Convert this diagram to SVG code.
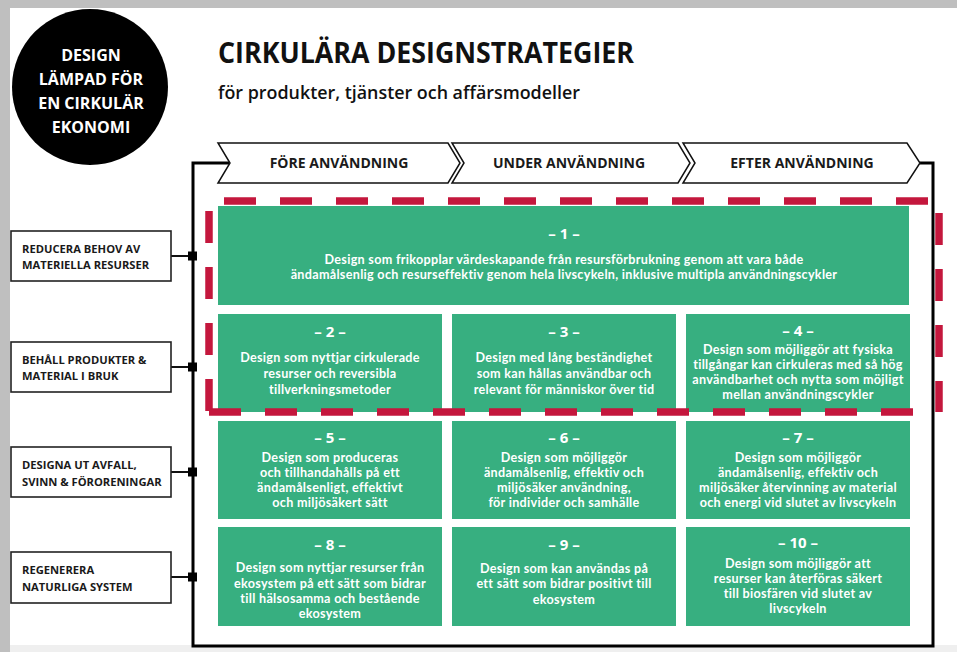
<svg xmlns="http://www.w3.org/2000/svg" width="957" height="652" viewBox="0 0 957 652">
<style>
.bg{fill:#bfbfbf}
.lbl{fill:#fff;stroke:#222;stroke-width:1.6}
.lt{font-family:"Open Sans","Liberation Sans",sans-serif;font-weight:700;font-size:11.2px;fill:#1a1a1a}
.chev{fill:#fff;stroke:#111;stroke-width:1.5}
.ht{font-family:"Open Sans","Liberation Sans",sans-serif;font-weight:700;font-size:14px;fill:#1a1a1a;text-anchor:middle}
.g{fill:#37af80}
.gt{font-family:Lato,"Open Sans","Liberation Sans",sans-serif;font-weight:700;font-size:12.6px;letter-spacing:0.3px;fill:#fff;text-anchor:middle}
.gh{font-family:"Open Sans","Liberation Sans",sans-serif;font-weight:700;font-size:15px;fill:#fff;text-anchor:middle}
.ct{font-family:"Open Sans","Liberation Sans",sans-serif;font-weight:700;font-size:16px;fill:#fff;text-anchor:middle}
.red{stroke:#c4173d;stroke-width:7.5;stroke-dasharray:32 24;fill:none}
.conn{stroke:#111;stroke-width:2;fill:none}
</style>
<rect class="bg" x="0" y="0" width="957" height="652"/>
<rect x="10" y="8" width="947" height="637" fill="#fff"/>
<rect x="10" y="645" width="947" height="7" fill="#efefef"/>

<g id="badge">
<circle cx="90" cy="87" r="78" fill="#000"/>
<text class="ct" x="91" y="61">DESIGN</text>
<text class="ct" x="91" y="85">LÄMPAD FÖR</text>
<text class="ct" x="91" y="109">EN CIRKULÄR</text>
<text class="ct" x="91" y="133">EKONOMI</text>
</g>

<g id="title">
<text x="218" y="63" font-family="Open Sans, Liberation Sans, sans-serif" font-weight="700" font-size="28" fill="#111" textLength="416" lengthAdjust="spacingAndGlyphs">CIRKULÄRA DESIGNSTRATEGIER</text>
<text x="218" y="99" font-family="Open Sans, Liberation Sans, sans-serif" font-weight="600" font-size="18" fill="#111" textLength="362" lengthAdjust="spacingAndGlyphs">för produkter, tjänster och affärsmodeller</text>
</g>

<g id="frame">
<path d="M232,163 H193 V646 H933 V163 H920" fill="none" stroke="#000" stroke-width="3"/>
</g>

<g id="phase-fore">
<path class="chev" d="M218,143 H448 L460,163 L448,183 H218 L230,163 Z"/>
<text class="ht" x="339" y="168">FÖRE ANVÄNDNING</text>
</g>
<g id="phase-under">
<path class="chev" d="M452,143 H678 L690,163 L678,183 H452 L464,163 Z"/>
<text class="ht" x="569" y="168">UNDER ANVÄNDNING</text>
</g>
<g id="phase-efter">
<path class="chev" d="M683,143 H907 L920,163 L907,183 H683 L695,163 Z"/>
<text class="ht" x="802" y="168">EFTER ANVÄNDNING</text>
</g>

<g id="connectors">
<line class="conn" x1="171" y1="256" x2="192" y2="256"/>
<line class="conn" x1="171" y1="367" x2="192" y2="367"/>
<line class="conn" x1="171" y1="472" x2="192" y2="472"/>
<line class="conn" x1="171" y1="577" x2="192" y2="577"/>
<rect x="188" y="251.5" width="9" height="9" fill="#000"/>
<rect x="188" y="362.5" width="9" height="9" fill="#000"/>
<rect x="188" y="467.5" width="9" height="9" fill="#000"/>
<rect x="188" y="572.5" width="9" height="9" fill="#000"/>
</g>

<g id="label-reducera">
<rect class="lbl" x="11" y="231" width="160" height="50"/>
<text class="lt" x="22" y="253">REDUCERA BEHOV AV</text>
<text class="lt" x="22" y="269">MATERIELLA RESURSER</text>
</g>
<g id="label-behall">
<rect class="lbl" x="11" y="342" width="160" height="50"/>
<text class="lt" x="22" y="364">BEHÅLL PRODUKTER &amp;</text>
<text class="lt" x="22" y="380">MATERIAL I BRUK</text>
</g>
<g id="label-designa">
<rect class="lbl" x="11" y="447" width="160" height="50"/>
<text class="lt" x="22" y="469">DESIGNA UT AVFALL,</text>
<text class="lt" x="22" y="486">SVINN &amp; FÖRORENINGAR</text>
</g>
<g id="label-regenerera">
<rect class="lbl" x="11" y="552" width="160" height="51"/>
<text class="lt" x="22" y="574">REGENERERA</text>
<text class="lt" x="22" y="591">NATURLIGA SYSTEM</text>
</g>

<g id="s1">
<rect class="g" x="218" y="206" width="691" height="99"/>
<text class="gh" x="564" y="239">– 1 –</text>
<text class="gt" x="564" y="264">Design som frikopplar värdeskapande från resursförbrukning genom att vara både</text>
<text class="gt" x="564" y="279">ändamålsenlig och resurseffektiv genom hela livscykeln, inklusive multipla användningscykler</text>
</g>
<g id="s2">
<rect class="g" x="218" y="314" width="224" height="98"/>
<text class="gh" x="330" y="337">– 2 –</text>
<text class="gt" x="330" y="362">Design som nyttjar cirkulerade</text>
<text class="gt" x="330" y="378">resurser och reversibla</text>
<text class="gt" x="330" y="394">tillverkningsmetoder</text>
</g>
<g id="s3">
<rect class="g" x="452" y="314" width="224" height="98"/>
<text class="gh" x="564" y="337">– 3 –</text>
<text class="gt" x="564" y="362">Design med lång beständighet</text>
<text class="gt" x="564" y="378">som kan hållas användbar och</text>
<text class="gt" x="564" y="394">relevant för människor över tid</text>
</g>
<g id="s4">
<rect class="g" x="686" y="314" width="224" height="98"/>
<text class="gh" x="798" y="336">– 4 –</text>
<text class="gt" x="798" y="354">Design som möjliggör att fysiska</text>
<text class="gt" x="798" y="369">tillgångar kan cirkuleras med så hög</text>
<text class="gt" x="798" y="384">användbarhet och nytta som möjligt</text>
<text class="gt" x="798" y="399">mellan användningscykler</text>
</g>
<g id="s5">
<rect class="g" x="218" y="421" width="224" height="98"/>
<text class="gh" x="330" y="443">– 5 –</text>
<text class="gt" x="330" y="462">Design som produceras</text>
<text class="gt" x="330" y="477">och tillhandahålls på ett</text>
<text class="gt" x="330" y="492">ändamålsenligt, effektivt</text>
<text class="gt" x="330" y="507">och miljösäkert sätt</text>
</g>
<g id="s6">
<rect class="g" x="452" y="421" width="224" height="98"/>
<text class="gh" x="564" y="443">– 6 –</text>
<text class="gt" x="564" y="462">Design som möjliggör</text>
<text class="gt" x="564" y="477">ändamålsenlig, effektiv och</text>
<text class="gt" x="564" y="492">miljösäker användning,</text>
<text class="gt" x="564" y="507">för individer och samhälle</text>
</g>
<g id="s7">
<rect class="g" x="686" y="421" width="224" height="98"/>
<text class="gh" x="798" y="443">– 7 –</text>
<text class="gt" x="798" y="462">Design som möjliggör</text>
<text class="gt" x="798" y="477">ändamålsenlig, effektiv och</text>
<text class="gt" x="798" y="492">miljösäker återvinning av material</text>
<text class="gt" x="798" y="507">och energi vid slutet av livscykeln</text>
</g>
<g id="s8">
<rect class="g" x="218" y="527" width="224" height="99"/>
<text class="gh" x="330" y="550">– 8 –</text>
<text class="gt" x="330" y="572">Design som nyttjar resurser från</text>
<text class="gt" x="330" y="588">ekosystem på ett sätt som bidrar</text>
<text class="gt" x="330" y="603">till hälsosamma och bestående</text>
<text class="gt" x="330" y="618">ekosystem</text>
</g>
<g id="s9">
<rect class="g" x="452" y="527" width="224" height="99"/>
<text class="gh" x="564" y="550">– 9 –</text>
<text class="gt" x="564" y="573">Design som kan användas på</text>
<text class="gt" x="564" y="588">ett sätt som bidrar positivt till</text>
<text class="gt" x="564" y="604">ekosystem</text>
</g>
<g id="s10">
<rect class="g" x="686" y="527" width="224" height="99"/>
<text class="gh" x="798" y="548">– 10 –</text>
<text class="gt" x="798" y="568">Design som möjliggör att</text>
<text class="gt" x="798" y="583">resurser kan återföras säkert</text>
<text class="gt" x="798" y="598">till biosfären vid slutet av</text>
<text class="gt" x="798" y="613">livscykeln</text>
</g>

<g id="highlight">
<line class="red" x1="224" y1="201" x2="928" y2="201"/>
<line class="red" x1="209" y1="211" x2="209" y2="411"/>
<line class="red" x1="209" y1="412" x2="913" y2="412"/>
<line class="red" x1="939" y1="213" x2="939" y2="412"/>
</g>
</svg>
